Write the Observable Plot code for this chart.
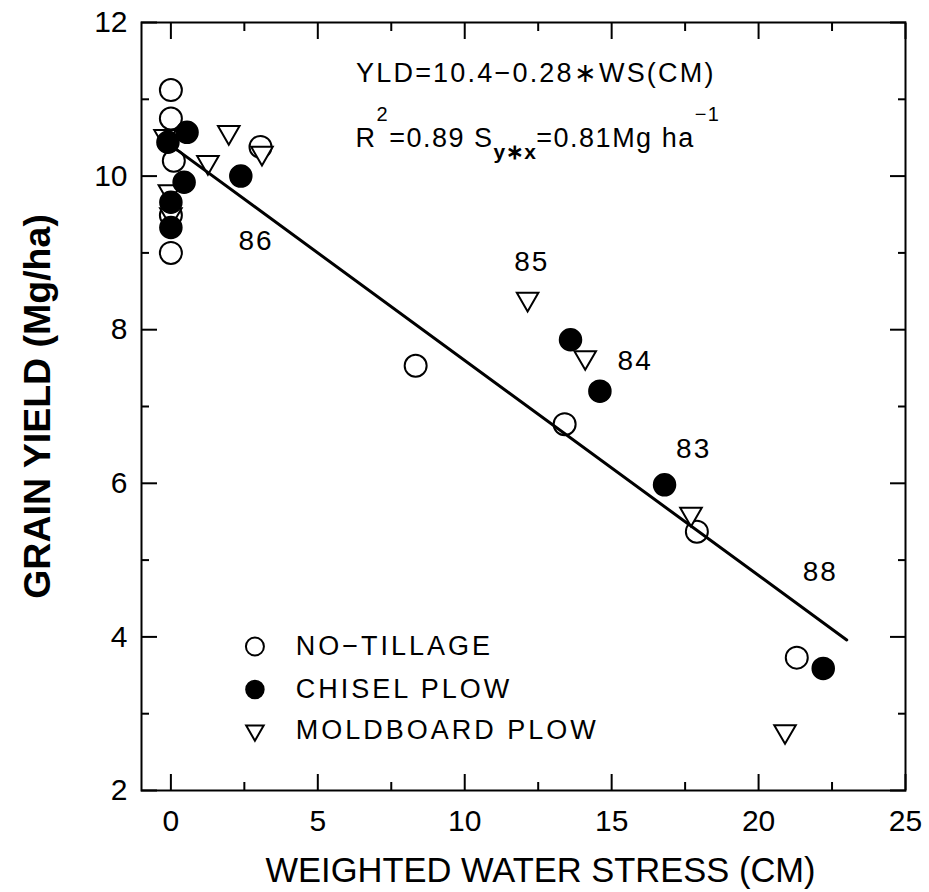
<!DOCTYPE html>
<html><head><meta charset="utf-8">
<script src="https://cdn.jsdelivr.net/npm/d3@7"></script>
<script src="https://cdn.jsdelivr.net/npm/@observablehq/plot@0.6"></script>
<style>
body{margin:0;background:#fff}
</style>
</head><body><div id="chart"></div>
<script>
const FONT = "Liberation Sans, Arial, sans-serif";

// axis ticks
const xTicks = [0, 5, 10, 15, 20, 25];
const xMinor = [2.5, 7.5, 12.5, 17.5, 22.5];
const yTicks = [2, 4, 6, 8, 10, 12];
const yMinor = [3, 5, 7, 9, 11];

// No-tillage (open circles)
const noTillX = [0, 0, 0.1, 0, 0, 3.05, 8.33, 13.4, 17.9, 21.3];
const noTillY = [11.12, 10.75, 10.2, 9.49, 9.0, 10.38, 7.53, 6.77, 5.37, 3.73];
// Chisel plow (filled circles)
const chiselX = [0.55, -0.1, 0.45, 0, 0, 2.38, 13.6, 14.6, 16.8, 22.2];
const chiselY = [10.57, 10.44, 9.92, 9.66, 9.33, 10.0, 7.87, 7.2, 5.98, 3.59];
// Moldboard plow (open down triangles)
const moldX = [-0.2, -0.05, 0, 1.97, 1.26, 3.1, 12.14, 14.1, 17.7, 20.9];
const moldY = [10.52, 9.8, 9.5, 10.57, 10.18, 10.3, 8.4, 7.64, 5.6, 2.77];

// regression
const fitIntercept = 10.4;
const fitSlope = -0.28;
const fitRange = [0, 23];

// year labels
const yearLabels = ["86", "85", "84", "83", "88"];
const yearX = [2.9, 12.28, 15.8, 17.79, 22.1];
const yearY = [9.16, 8.875, 7.59, 6.44, 4.84];

// legend
const legendLabels = ["NO\u2212TILLAGE", "CHISEL PLOW", "MOLDBOARD PLOW"];
const legendY = [3.875, 3.315, 2.78];
const legendSymX = 2.86;
const legendTextX = 4.25;

// titles
const xTitle = "WEIGHTED WATER STRESS (CM)";
const yTitle = "GRAIN YIELD (Mg/ha)";

// equation text
const eqLine1 = "YLD=10.4\u22120.28\u2217WS(CM)";
const eqX = 6.3;
const eqY1 = 11.22;
const eqY2 = 10.37;

const noTill = noTillX.map((x, i) => ({x, y: noTillY[i]}));
const chisel = chiselX.map((x, i) => ({x, y: chiselY[i]}));
const mold = moldX.map((x, i) => ({x, y: moldY[i]}));
const fitLine = fitRange.map(x => ({x, y: fitIntercept + fitSlope * x}));
const years = yearLabels.map((t, i) => ({t, x: yearX[i], y: yearY[i]}));
const legend = legendLabels.map((t, i) => ({t, i, y: legendY[i]}));

function eqSecondLine(index, scales) {
  const t = d3.create("svg:text")
    .attr("x", scales.x(eqX)).attr("y", scales.y(eqY2))
    .attr("text-anchor", "start")
    .attr("font-size", 27).attr("font-family", FONT)
    .attr("letter-spacing", "1.5px").attr("fill", "black");
  t.append("tspan").text("R");
  t.append("tspan").attr("dy", -26).attr("font-size", 20).text("2");
  t.append("tspan").attr("dy", 26).text("=0.89 S");
  t.append("tspan").attr("dy", 12).attr("font-size", 21).attr("font-weight", "bold").attr("letter-spacing", "0.5px").text("y\u2217x");
  t.append("tspan").attr("dy", -12).attr("letter-spacing", "1.5px").text("=0.81Mg ha");
  t.append("tspan").attr("dy", -26).attr("font-size", 20).text("\u22121");
  return t.node();
}

const chart = Plot.plot({
  width: 929,
  height: 892,
  marginLeft: 141,
  marginRight: 24,
  marginTop: 22,
  marginBottom: 102,
  x: {domain: [-1, 25]},
  y: {domain: [2, 12]},
  style: {fontFamily: FONT, fontSize: "30px", background: "white", color: "black"},
  marks: [
    // axes: labels
    Plot.axisX({anchor: "bottom", ticks: xTicks, tickSize: 0, tickPadding: 19, label: null, fontSize: 30}),
    Plot.axisY({anchor: "left", ticks: yTicks, tickSize: 0, tickPadding: 14, label: null, fontSize: 30}),
    // inward ticks
    Plot.axisX({anchor: "bottom", ticks: xTicks, tickSize: -16, text: null, label: null, strokeWidth: 2}),
    Plot.axisX({anchor: "bottom", ticks: xMinor, tickSize: -8, text: null, label: null, strokeWidth: 2}),
    Plot.axisX({anchor: "top", ticks: xTicks, tickSize: -16, text: null, label: null, strokeWidth: 2}),
    Plot.axisX({anchor: "top", ticks: xMinor, tickSize: -8, text: null, label: null, strokeWidth: 2}),
    Plot.axisY({anchor: "left", ticks: yTicks, tickSize: -16, text: null, label: null, strokeWidth: 2}),
    Plot.axisY({anchor: "left", ticks: yMinor, tickSize: -8, text: null, label: null, strokeWidth: 2}),
    Plot.axisY({anchor: "right", ticks: yTicks, tickSize: -16, text: null, label: null, strokeWidth: 2}),
    Plot.axisY({anchor: "right", ticks: yMinor, tickSize: -8, text: null, label: null, strokeWidth: 2}),
    Plot.frame({stroke: "black", strokeWidth: 2}),
    // axis titles
    Plot.text([xTitle], {frameAnchor: "bottom", dy: 80, dx: 17, text: d => d, fontSize: 34.5, textAnchor: "middle", lineAnchor: "middle"}),
    Plot.text([yTitle], {frameAnchor: "left", dx: -104, rotate: -90, text: d => d, fontSize: 37.5, fontWeight: "bold", textAnchor: "middle", lineAnchor: "middle"}),
    // data
    Plot.dot(noTill, {x: "x", y: "y", r: 11, stroke: "black", fill: "white", strokeWidth: 2}),
    Plot.dot(mold, {x: "x", y: "y", symbol: "triangle", r: 8, rotate: 180, stroke: "black", fill: "white", strokeWidth: 2}),
    Plot.dot(chisel, {x: "x", y: "y", r: 11, fill: "black", stroke: "black"}),
    Plot.line(fitLine, {x: "x", y: "y", stroke: "black", strokeWidth: 3}),
    // year labels
    Plot.text(years, {x: "x", y: "y", text: "t", fontSize: 28, fontWeight: (d) => d.t === "86" ? "bold" : "normal"}),
    // equation
    Plot.text([eqLine1], {x: eqX, y: eqY1, text: d => d, textAnchor: "start", lineAnchor: "bottom", fontSize: 27}),
    eqSecondLine,
    // legend
    Plot.dot(legend.filter(d => d.i === 0), {x: legendSymX, y: "y", r: 9, stroke: "black", fill: "white", strokeWidth: 2}),
    Plot.dot(legend.filter(d => d.i === 1), {x: legendSymX, y: "y", r: 9, fill: "black", stroke: "black"}),
    Plot.dot(legend.filter(d => d.i === 2), {x: legendSymX, y: "y", symbol: "triangle", r: 6.5, rotate: 180, stroke: "black", fill: "white", strokeWidth: 2}),
    Plot.text(legend, {x: legendTextX, y: "y", text: "t", textAnchor: "start", fontSize: 27})
  ]
});

// letter spacing for annotation text (old plotter style)
const spacing = new Map([[eqLine1, "2.2px"], ...legendLabels.map(l => [l, "3px"]), ...yearLabels.map(l => [l, "2px"])]);
d3.select(chart).selectAll("text").each(function() {
  const s = spacing.get(this.textContent);
  if (s) this.setAttribute("letter-spacing", s);
});
document.getElementById("chart").appendChild(chart);
</script>
</body></html>
